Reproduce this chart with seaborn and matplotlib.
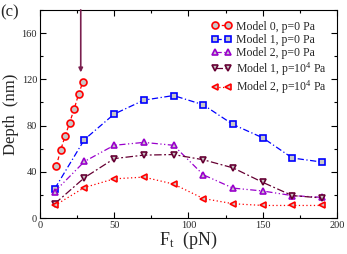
import pandas as pd
import matplotlib.pyplot as plt
import seaborn as sns
from matplotlib.ticker import MultipleLocator
from matplotlib.lines import Line2D

sns.set_theme(style='ticks')
plt.rcParams['font.family'] = ['Liberation Serif', 'DejaVu Serif']
plt.rcParams['mathtext.fontset'] = 'custom'
plt.rcParams['mathtext.rm'] = 'Liberation Serif'
plt.rcParams['mathtext.it'] = 'Liberation Serif:italic'

# data
force_m0 = [11, 14, 17, 20, 23, 26, 29]
depth_m0 = [45, 59, 71, 82.5, 94, 107, 118]

force = [10, 30, 50, 70, 90, 110, 130, 150, 170, 190]
depth_m1_p0 = [25.5, 68, 90, 102, 106, 98, 81, 69.5, 52, 48.5]
depth_m2_p0 = [23, 49, 63, 65.5, 63, 37.5, 26, 23.5, 19.5, 18]
depth_m1_p4 = [12.5, 35, 51.5, 54.5, 55, 50.5, 43.5, 31, 19.5, 17.5]
depth_m2_p4 = [11, 26.5, 34, 35.5, 29.5, 17, 12.5, 11, 11, 11]

labels = ['Model 0, p=0 Pa', 'Model 1, p=0 Pa', 'Model 2, p=0 Pa',
          'Model 1, p=10$^4$ Pa', 'Model 2, p=10$^4$ Pa']

series = [
    (force_m0, depth_m0, labels[0], '#ff0000', 'o', (0, (3, 2))),
    (force, depth_m1_p0, labels[1], '#0000ff', 's', (0, (5, 2, 1, 2))),
    (force, depth_m2_p0, labels[2], '#9900cc', '^', (0, (5, 2, 1, 2, 1, 2))),
    (force, depth_m1_p4, labels[3], '#660033', 'v', (0, (6, 2, 1.5, 2))),
    (force, depth_m2_p4, labels[4], '#ff0000', '<', (0, (1, 2))),
]

fig, ax = plt.subplots(figsize=(3.47, 2.54), dpi=100)
fig.subplots_adjust(left=0.115, right=0.971, top=0.961, bottom=0.141)

handles = []
for x, y, lab, col, mk, ls in series:
    df = pd.DataFrame({'F': x, 'depth': y})
    style = dict(color=col, linestyle=ls, linewidth=0.9, marker=mk,
                 markersize=5, markerfacecolor='#c8c8c8',
                 markeredgecolor=col, markeredgewidth=1.2)
    sns.lineplot(data=df, x='F', y='depth', ax=ax, legend=False, **style)
    handles.append(Line2D([], [], label=lab, **style))

ax.annotate('', xy=(27.5, 126), xytext=(27.5, 180),
            arrowprops=dict(arrowstyle='-|>', color='#7a1f4f', lw=1.2,
                            mutation_scale=6, shrinkA=0, shrinkB=0))

ax.set_xlim(0, 200)
ax.set_ylim(0, 180)
ax.xaxis.set_major_locator(MultipleLocator(50))
ax.xaxis.set_minor_locator(MultipleLocator(25))
ax.yaxis.set_major_locator(MultipleLocator(40))
ax.yaxis.set_minor_locator(MultipleLocator(20))
ax.tick_params(which='both', direction='in', top=True, right=True,
               labelsize=7.5, pad=2, color='black')
ax.tick_params(which='major', length=4, width=0.8)
ax.tick_params(which='minor', length=2, width=0.8)
for s in ax.spines.values():
    s.set_linewidth(0.8)
    s.set_color('black')

ax.set_xlabel('F$_\\mathregular{t}$  (pN)', fontsize=13, labelpad=0)
ax.set_ylabel('Depth  (nm)', fontsize=12, labelpad=2)
fig.text(0.0, 0.935, '(c)', fontsize=12)

ax.legend(handles=handles, loc='upper right', numpoints=2, frameon=False,
          fontsize=8.5, handlelength=1.7, handletextpad=0.35,
          labelspacing=0.1, borderaxespad=0.5)

fig.savefig('out.png', dpi=100)
